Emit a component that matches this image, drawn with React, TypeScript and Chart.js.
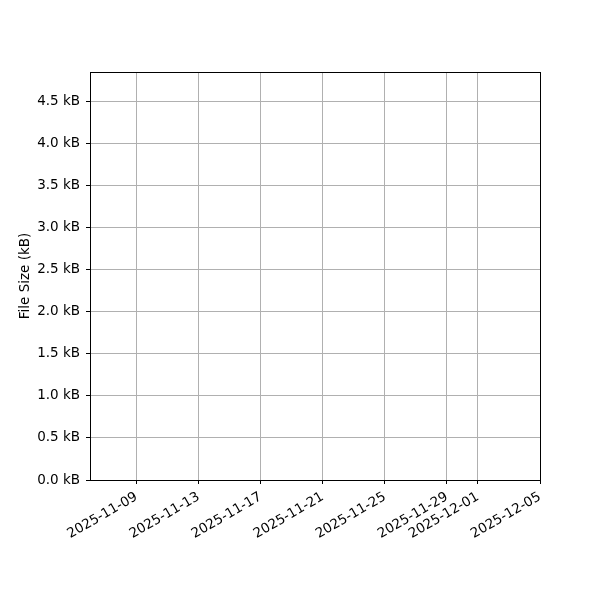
import { useEffect, useRef } from "react";
import { Chart, registerables, Plugin } from "chart.js";

Chart.register(...registerables);

// x values are days counted from 2025-11-06
const X_MIN = 0;
const X_MAX = 29;
const xTickDays = [3, 7, 11, 15, 19, 23, 25, 29];
const xTickLabels = [
    "2025-11-09", "2025-11-13", "2025-11-17", "2025-11-21",
    "2025-11-25", "2025-11-29", "2025-12-01", "2025-12-05",
];

const Y_MIN = 0;
const Y_MAX = 4.845;
const yTicks = [0, 0.5, 1, 1.5, 2, 2.5, 3, 3.5, 4, 4.5];

// no points recorded
const fileSizes: { x: number; y: number }[] = [];

const FONT = { family: "'DejaVu Sans', sans-serif", size: 13.5 };

const frame: Plugin = {
    id: "frame",
    afterDraw(chart) {
        const { ctx, chartArea: a } = chart;
        ctx.save();
        ctx.strokeStyle = "#000";
        ctx.lineWidth = 1;
        ctx.strokeRect(a.left + 0.5, a.top + 0.5, a.right - a.left, a.bottom - a.top);
        ctx.restore();
    },
};

export default function App() {
    const canvasRef = useRef<HTMLCanvasElement>(null);

    useEffect(() => {
        document.body.style.margin = "0";
        if (!canvasRef.current) return;

        const chart = new Chart(canvasRef.current, {
            type: "line",
            data: {
                datasets: [{ label: "File Size", data: fileSizes, borderColor: "#1f77b4" }],
            },
            options: {
                animation: false,
                responsive: false,
                layout: { padding: { top: 72, right: 60, left: 0, bottom: 0 } },
                plugins: { legend: { display: false }, tooltip: { enabled: false } },
                scales: {
                    x: {
                        type: "linear",
                        min: X_MIN,
                        max: X_MAX,
                        afterBuildTicks: (s) => { s.ticks = xTickDays.map(v => ({ value: v })); },
                        afterFit: (s) => { s.height = 120; },
                        grid: { color: "#b0b0b0", lineWidth: 1, tickColor: "#000", tickLength: 4 },
                        border: { color: "#000", width: 1 },
                        ticks: {
                            color: "#000",
                            font: FONT,
                            padding: 5,
                            minRotation: 30,
                            maxRotation: 30,
                            autoSkip: false,
                            callback: (v) => xTickLabels[xTickDays.indexOf(Number(v))] ?? "",
                        },
                    },
                    y: {
                        min: Y_MIN,
                        max: Y_MAX,
                        afterBuildTicks: (s) => { s.ticks = yTicks.map(v => ({ value: v })); },
                        afterFit: (s) => { s.width = 90; },
                        grid: { color: "#b0b0b0", lineWidth: 1, tickColor: "#000", tickLength: 4 },
                        border: { color: "#000", width: 1 },
                        title: { display: true, text: "File Size (kB)", color: "#000", font: FONT, padding: { top: 17, bottom: 0 } },
                        ticks: {
                            color: "#000",
                            font: FONT,
                            padding: 6,
                            callback: (v) => `${Number(v).toFixed(1)} kB`,
                        },
                    },
                },
            },
            plugins: [frame],
        });

        return () => chart.destroy();
    }, []);

    return <canvas ref={canvasRef} width={600} height={600} style={{ display: "block" }}></canvas>;
}
